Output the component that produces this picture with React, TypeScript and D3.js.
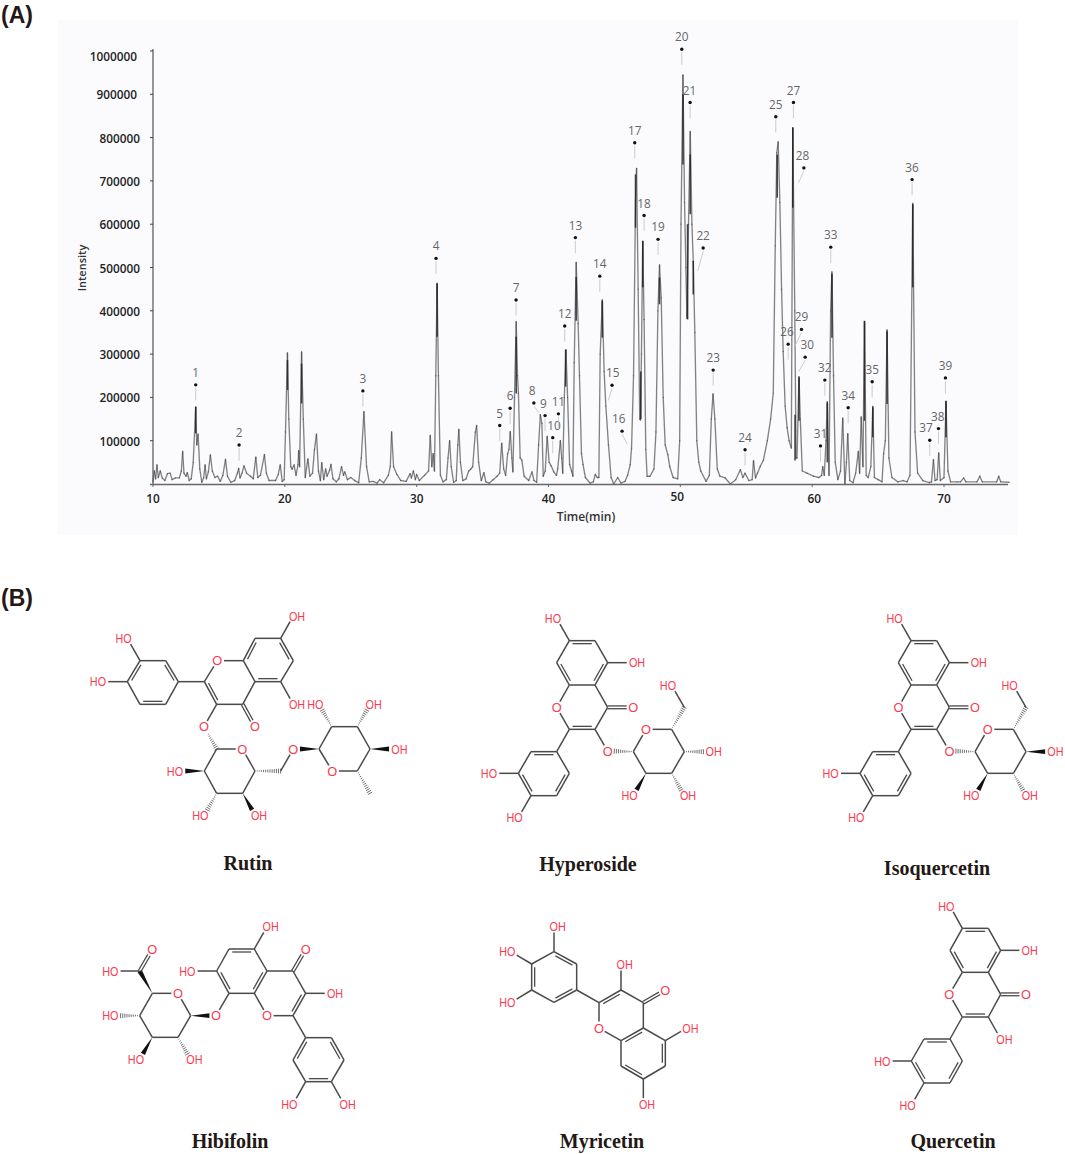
import React from "react";
import * as d3 from "d3";

// ---------- Chromatogram values (time in min, intensity in thousands) ----------
type P = [number, number];
const trace10to20: P[] = [[10,5],[10.1,30],[10.2,12],[10.3,44],[10.4,15],[10.55,30],[10.7,14],[10.9,8],[11.1,24],[11.3,25],[11.45,10],[11.7,14],[12.0,14],[12.15,30],[12.25,75],[12.35,25],[12.5,18],[12.6,26],[12.75,8],[12.9,12],[13.05,50],[13.24,178],[13.32,90],[13.42,115],[13.55,35],[13.7,4],[13.85,15],[13.95,44],[14.05,12],[14.2,28],[14.35,67],[14.5,30],[14.7,15],[14.9,18],[15.1,6],[15.3,20],[15.5,57],[15.65,18],[15.9,4],[16.2,8],[16.4,25],[16.5,36],[16.6,14],[16.75,25],[16.9,42],[17.1,25],[17.4,18],[17.6,12],[17.8,62],[17.95,15],[18.15,20],[18.45,68],[18.6,25],[18.8,8],[19.3,8],[19.5,22],[19.65,44],[19.8,6]];
const trace20to30: P[] = [[19.95,10],[20.05,120],[20.2,303],[20.3,150],[20.45,40],[20.55,34],[20.7,44],[20.85,20],[21.0,45],[21.05,77],[21.12,40],[21.27,305],[21.4,150],[21.55,15],[21.75,58],[21.9,18],[22.1,25],[22.25,80],[22.4,115],[22.55,30],[22.7,8],[22.8,49],[22.95,10],[23.1,35],[23.2,18],[23.4,32],[23.5,45],[23.65,12],[23.9,5],[24.1,12],[24.3,40],[24.45,20],[24.55,28],[24.75,10],[25.0,15],[25.3,8],[25.6,3],[25.8,60],[26.0,167],[26.2,40],[26.4,5],[26.7,6],[27.0,2],[27.2,10],[27.5,3],[27.85,20],[28.0,40],[28.1,120],[28.25,40],[28.5,22],[28.8,8],[29.2,6],[29.5,24],[29.6,14],[29.75,30],[29.9,10],[30.0,22],[30.2,8],[30.6,20],[30.9,30]];
const trace30to40: P[] = [[31.03,112],[31.15,40],[31.25,70],[31.35,30],[31.45,250],[31.55,463],[31.65,250],[31.8,20],[32.0,5],[32.25,10],[32.38,60],[32.5,100],[32.62,40],[32.8,4],[33.0,8],[33.12,90],[33.2,126],[33.32,50],[33.5,8],[33.75,12],[33.95,30],[34.1,34],[34.25,40],[34.45,120],[34.55,135],[34.7,50],[34.9,8],[35.1,26],[35.25,5],[35.5,2],[35.8,10],[36.1,18],[36.3,25],[36.45,94],[36.6,35],[36.75,20],[36.9,70],[37.0,80],[37.1,121],[37.22,60],[37.3,28],[37.42,200],[37.55,375],[37.65,250],[37.72,209],[37.85,60],[37.98,55],[38.15,18],[38.5,8],[38.75,28],[38.9,8],[39.1,4],[39.25,90],[39.38,160],[39.5,140],[39.6,18],[39.75,30],[39.9,110]];
const trace40to50: P[] = [[40.05,50],[40.2,42],[40.4,28],[40.6,20],[40.7,35],[40.9,100],[41.0,60],[41.08,25],[41.2,200],[41.32,310],[41.45,200],[41.6,45],[41.75,30],[41.85,18],[41.95,280],[42.1,512],[42.25,370],[42.35,250],[42.5,70],[42.62,45],[42.8,15],[43.15,2],[43.4,5],[43.55,22],[43.7,15],[43.82,15],[43.92,300],[44.08,425],[44.22,260],[44.35,180],[44.55,90],[44.75,15],[44.95,0],[45.25,15],[45.5,2],[45.8,6],[46.0,20],[46.2,45],[46.3,83],[46.45,250],[46.6,650],[46.68,729],[46.8,450],[46.92,150],[46.98,148],[47.05,300],[47.15,561],[47.25,380],[47.38,80],[47.48,18],[47.7,18],[48.0,35],[48.15,120],[48.3,400],[48.42,506],[48.55,430],[48.7,200],[48.85,90],[49.05,68],[49.2,40],[49.45,15],[49.8,12],[49.95,100]];
const trace50to60: P[] = [[50.05,600],[50.2,945],[50.32,650],[50.42,500],[50.5,383],[50.62,600],[50.75,814],[50.88,600],[50.98,514],[51.1,350],[51.25,100],[51.4,50],[51.55,30],[51.95,6],[52.2,20],[52.35,150],[52.48,208],[52.62,150],[52.8,35],[53.0,18],[53.4,14],[53.8,0],[54.2,10],[54.55,33],[54.75,15],[54.9,25],[55.2,8],[55.45,10],[55.55,54],[55.7,14],[55.85,25],[56.05,40],[56.3,55],[56.6,100],[56.85,150],[57.05,210],[57.2,550],[57.32,765],[57.42,790],[57.55,650],[57.68,450],[57.8,306],[57.95,180],[58.1,130],[58.25,100],[58.42,83],[58.53,823],[58.68,400],[58.78,60],[58.85,60],[59.0,248],[59.1,150],[59.25,30],[59.6,25]];
const trace60to75: P[] = [[60.1,18],[60.5,15],[60.72,20],[60.8,40],[60.92,20],[61.05,100],[61.15,190],[61.28,20],[61.4,400],[61.5,490],[61.62,250],[61.75,50],[61.95,10],[62.15,30],[62.32,152],[62.48,0],[62.6,50],[62.7,116],[62.85,8],[63.1,3],[63.3,25],[63.5,75],[63.6,25],[63.72,155],[63.85,40],[63.97,375],[64.1,20],[64.25,15],[64.45,40],[64.6,179],[64.72,15],[65.0,10],[65.3,5],[65.42,70],[65.55,100],[65.68,356],[65.82,60],[66.05,15],[66.5,5],[66.9,8],[67.2,5],[67.42,20],[67.63,648],[67.8,120],[68.0,25],[68.4,8],[68.9,3],[69.05,5],[69.2,56],[69.32,8],[69.48,10],[69.6,72],[69.72,8],[70.0,15],[70.15,190],[70.3,30],[70.5,5],[71.0,5],[71.25,5],[71.5,14],[71.65,5],[72.5,5],[72.72,18],[72.9,5],[74.0,5],[74.15,18],[74.3,5],[74.95,4]];
const trace: P[] = [...trace10to20, ...trace20to30, ...trace30to40, ...trace40to50, ...trace50to60, ...trace60to75];

// Dark centres of the strong peaks, where the two flanks merge: [time, top, bottom]
const darkCores: [number, number, number][] = [[13.24,178,117],[20.2,286,217],[21.27,278,186],[31.55,463,340],[37.55,340,209],[41.3,310,225],[42.1,478,377],[44.08,423,338],[46.6,715,592],[47.0,260,150],[47.15,561,454],[48.42,477,415],[50.2,900,738],[50.55,600,380],[50.75,761,623],[50.98,515,438],[57.35,761,661],[58.53,823,638],[58.7,160,54],[59.0,246,146],[61.15,188,50],[61.5,485,338],[63.97,377,146],[64.6,177,108],[65.68,353,185],[67.63,646,454],[70.15,192,108]];

const yTicks = [100,200,300,400,500,600,700,800,900,1000];
const xTicks = [10,20,30,40,50,60,70];

// ---------- Numbered peaks: [time, intensity] of each marker dot ----------
const peakDots: P[] = [[13.24,229],[16.53,90],[25.92,215],[31.47,521],[36.3,135],[37.09,175],[37.54,425],[38.89,187],[39.74,158],[40.32,107],[40.75,162],[41.23,365],[42.04,569],[43.89,480],[44.82,228],[45.58,122],[46.54,788],[47.25,620],[48.31,565],[50.11,1004],[50.74,881],[51.73,545],[52.49,263],[54.91,79],[57.24,848],[58.18,323],[58.58,881],[59.37,730],[59.19,357],[59.47,293],[60.63,88],[60.96,240],[61.41,547],[62.73,176],[64.55,236],[67.58,703],[68.92,101],[69.58,128],[70.11,245]];
const labelShift: Record<number, number> = {8:-0.13,9:-0.13,10:0.1,15:0.05,16:-0.25,21:-0.05,26:-0.08,28:-0.1,30:0.15,37:-0.28,38:-0.05};
const leaderEnd: Record<number, P> = {8:[0.38,-22],15:[-0.28,-35],16:[0.4,-30],22:[-0.4,-53],28:[-0.4,-34],29:[-0.48,-37],30:[-0.5,-34]};

// ---------- Structures: atom positions in a 3x drawing space ----------
type Atom = [number, number, string?];
type Atoms = Record<string, Atom>;
const rutinAtoms: Atoms = {c7:[632,115],c6:[670,182],c5:[632,245],c4a:[555,245],c8a:[520,182],c8:[555,115],O1:[442,182,"O"],C2:[403,245],C3:[440,313],C4:[518,313],O4:[555,380,"O"],O7:[670,48,"OH"],O5:[670,313,"OH"],B1:[325,245],B2:[287,182],B3:[210,182],B4:[172,245],B5:[210,313],B6:[287,313],OB3:[172,115,"HO"],OB4:[95,245,"HO"],O3:[402,380,"O"],S1:[440,447],SO:[517,447,"O"],S5:[555,513],S4:[518,580],S3:[440,580],S2:[403,513],OS2:[326,513,"HO"],OS3:[402,647,"HO"],OS4:[556,647,"OH"],CH2:[632,513],OL:[670,447,"O"],R1:[747,447],RO:[787,513,"O"],R5:[862,513],Me:[900,580],R4:[900,447],R3:[862,380],R2:[785,380],OR4:[977,447,"OH"],OR3:[900,313,"OH"],OR2:[747,313,"HO"]};
const hyperosideAtoms: Atoms = {c7:[298,122],c6:[375,122],c5:[413,188],c4a:[375,255],c8a:[298,255],c8:[260,188],O7:[260,55,"HO"],O5:[490,188,"OH"],O1:[260,322,"O"],C2:[298,388],C3:[375,388],C4:[413,322],O4:[490,322,"O"],O3:[413,453,"O"],B1:[260,455],B2:[183,455],B3:[145,520],B4:[183,587],B5:[260,587],B6:[298,520],OB3:[68,520,"HO"],OB4:[145,653,"HO"],S1:[490,455],SO:[528,388,"O"],S5:[605,388],S4:[643,455],S3:[605,520],S2:[528,520],CH2:[643,322],OCH:[605,256,"HO"],OS4:[720,455,"OH"],OS3:[643,587,"OH"],OS2:[490,587,"HO"]};
const hibifolinAtoms: Atoms = {c5:[493,147],c6:[417,147],c7:[380,213],c8:[417,280],c8a:[493,280],c4a:[531,213],C4:[609,213],O4:[647,148,"O"],C3:[647,280],O3:[724,280,"OH"],C2:[609,347],O1:[531,347,"O"],O5:[531,80,"OH"],O7:[303,213,"HO"],O8:[378,347,"O"],B1:[647,413],B2:[724,413],B3:[762,480],B4:[724,545],B5:[647,545],B6:[609,480],OB4:[762,612,"OH"],OB5:[609,612,"HO"],S1:[302,347],SO:[264,280,"O"],S5:[187,280],S4:[149,347],S3:[187,412],S2:[264,412],CO:[149,213],OD:[187,148,"O"],OA:[72,213,"HO"],OS4:[72,347,"HO"],OS3:[149,479,"HO"],OS2:[302,479,"OH"]};
const myricetinAtoms: Atoms = {B1:[290,270],B2:[290,192],B3:[222,155],B4:[155,192],B5:[155,270],B6:[222,307],OB3:[222,78,"OH"],OB4:[93,155,"HO"],OB5:[93,308,"HO"],C2:[357,308],C3:[423,270],O3:[423,192,"OH"],C4:[490,308],O4:[556,270,"O"],O1:[357,384,"O"],c8a:[423,422],c4a:[490,384],c5:[556,422],O5:[620,384,"OH"],c6:[556,498],c7:[490,537],O7:[490,614,"OH"],c8:[423,498]};
const quercetinAtoms: Atoms = {c7:[367,115],c6:[445,115],c5:[482,181],c4a:[445,247],c8a:[367,247],c8:[330,181],O7:[330,48,"HO"],O5:[558,181,"OH"],O1:[328,313,"O"],C2:[367,381],C3:[445,381],C4:[482,313],O4:[558,313,"O"],O3:[482,447,"OH"],B1:[330,447],B2:[252,447],B3:[214,513],B4:[252,579],B5:[330,579],B6:[367,513],OB3:[138,513,"HO"],OB4:[214,645,"HO"]};

const coreBonds = ["c6 c5 1","c4a c8a 1","c8 c7 1","c7 O7 1","c5 O5 1","c8a O1 1","O1 C2 1","C3 C4 1","C4 c4a 1","C4 O4 2","C2 B1 1","C2 C3 2 C4"];
const kekuleA = ["c7 c6 2 c8a","c5 c4a 2 c7","c8 c8a 2 c6"];
const kekuleA2 = ["c5 c6 2 c8a","c7 c8 2 c4a","c8a c4a 2 c6","c6 c7 1","c8 c8a 1","c4a c5 1"];
const ringB12 = ["B1 B2 2 B4","B2 B3 1","B3 B4 2 B1","B4 B5 1","B5 B6 2 B3","B6 B1 1"];
const ringB16 = ["B1 B6 2 B3","B6 B5 1","B5 B4 2 B2","B4 B3 1","B3 B2 2 B5","B2 B1 1"];
const rutinBonds = [...coreBonds,...kekuleA,...ringB12,"B3 OB3 1","B4 OB4 1","C3 O3 1","O3 S1 h","S1 SO 1","SO S5 1","S5 S4 1","S4 S3 1","S3 S2 1","S2 S1 1","S2 OS2 w","S3 OS3 h","S4 OS4 w","S5 CH2 h","CH2 OL 1","R1 OL w","R1 RO 1","RO R5 1","R5 R4 1","R4 R3 1","R3 R2 1","R2 R1 1","R5 Me h","R4 OR4 w","R3 OR3 h","R2 OR2 h"];
const glucosideBonds = [...coreBonds,...kekuleA,...ringB12,"B3 OB3 1","B4 OB4 1","C3 O3 1","S1 O3 h","S1 SO 1","SO S5 1","S5 S4 1","S4 S3 1","S3 S2 1","S2 S1 1","S5 CH2 h","CH2 OCH 1","S3 OS3 h","S2 OS2 w"];
const hyperosideBonds = [...glucosideBonds,"S4 OS4 h"];
const isoquercetinBonds = [...glucosideBonds,"S4 OS4 w"];
const hibifolinBonds = ["c7 O7 1","c5 O5 1","c8a O1 1","O1 C2 1","C3 C4 1","C4 c4a 1","C4 O4 2","C2 B1 1","C2 C3 2 C4",...kekuleA2,...ringB16,"B4 OB4 1","B5 OB5 1","C3 O3 1","c8 O8 1","S1 O8 w","S1 SO 1","SO S5 1","S5 S4 1","S4 S3 1","S3 S2 1","S2 S1 1","S5 CO w","CO OD 2","CO OA 1","S4 OS4 h","S3 OS3 w","S2 OS2 h"];
const myricetinBonds = ["c7 O7 1","c5 O5 1","c8a O1 1","O1 C2 1","C3 C4 1","C4 c4a 1","C4 O4 2","C2 B1 1","C2 C3 2 C4",...kekuleA2,...ringB16,"B3 OB3 1","B4 OB4 1","B5 OB5 1","C3 O3 1"];
const quercetinBonds = [...coreBonds,...kekuleA,...ringB12,"B3 OB3 1","B4 OB4 1","C3 O3 1"];

const moleculeNames = ["Rutin","Hyperoside","Isoquercetin","Hibifolin","Myricetin","Quercetin"];
const moleculeAtoms = [rutinAtoms,hyperosideAtoms,hyperosideAtoms,hibifolinAtoms,myricetinAtoms,quercetinAtoms];
const moleculeBonds = [rutinBonds,hyperosideBonds,isoquercetinBonds,hibifolinBonds,myricetinBonds,quercetinBonds];
const moleculeOrigin: P[] = [[70,600],[470,600],[811.7,600],[90,900],[480,900],[840,890]];
const nameAnchor: P[] = [[248,870],[588,871],[937,875],[230,1148],[602,1148],[953,1148]];

const BOND = "#4a4a4a";
const RED = "#fa3a50";
const INK = "#231815";

function Molecule({ atoms, bonds, origin }: { atoms: Atoms; bonds: string[]; origin: P }) {
  const sx = d3.scaleLinear().domain([0, 3]).range([origin[0], origin[0] + 1]);
  const sy = d3.scaleLinear().domain([0, 3]).range([origin[1], origin[1] + 1]);
  const pt = (k: string): [number, number] => [sx(atoms[k][0]), sy(atoms[k][1])];
  const line = d3.line();
  const els: React.ReactNode[] = [];
  bonds.forEach((spec, i) => {
    const [a, b, type, inner] = spec.split(" ");
    let [x1, y1] = pt(a);
    let [x2, y2] = pt(b);
    const L = Math.hypot(x2 - x1, y2 - y1);
    const ux = (x2 - x1) / L, uy = (y2 - y1) / L;
    const gap = 6.6;
    if (atoms[a][2]) { x1 += ux * gap; y1 += uy * gap; }
    if (atoms[b][2]) { x2 -= ux * gap; y2 -= uy * gap; }
    const nx = -uy, ny = ux;
    if (type === "1") {
      els.push(<path key={i} d={line([[x1, y1], [x2, y2]])!} stroke={BOND} strokeWidth={1.5} fill="none" />);
    } else if (type === "2") {
      if (inner) {
        const [ix, iy] = pt(inner);
        const s = (ix - x1) * nx + (iy - y1) * ny > 0 ? 1 : -1;
        const off = 3 * s, t = 3.2;
        els.push(<path key={i} d={line([[x1, y1], [x2, y2]])!} stroke={BOND} strokeWidth={1.5} fill="none" />);
        els.push(<path key={i + "b"} d={line([[x1 + ux * t + nx * off, y1 + uy * t + ny * off], [x2 - ux * t + nx * off, y2 - uy * t + ny * off]])!} stroke={BOND} strokeWidth={1.3} fill="none" />);
      } else {
        [-1.4, 1.4].forEach((o) =>
          els.push(<path key={i + "d" + o} d={line([[x1 + nx * o, y1 + ny * o], [x2 + nx * o, y2 + ny * o]])!} stroke={BOND} strokeWidth={1.3} fill="none" />));
      }
    } else if (type === "w") {
      const w = 2.4;
      els.push(<path key={i} d={line([[x1, y1], [x2 + nx * w, y2 + ny * w], [x2 - nx * w, y2 - ny * w]])! + "Z"} fill="#111" />);
    } else {
      const d = Math.hypot(x2 - x1, y2 - y1), n = Math.floor(d / 2.1);
      for (let k = 1; k <= n; k++) {
        const f = k / n, w = 0.3 + 2.2 * f;
        const cx = x1 + (x2 - x1) * f, cy = y1 + (y2 - y1) * f;
        els.push(<path key={i + "h" + k} d={line([[cx + nx * w, cy + ny * w], [cx - nx * w, cy - ny * w]])!} stroke={BOND} strokeWidth={0.8} />);
      }
    }
  });
  const fs = 12.8;
  const pairWidth = 16.2;
  Object.keys(atoms).forEach((k) => {
    const lab = atoms[k][2];
    if (!lab) return;
    const [x, y] = pt(k);
    const anchor = lab === "OH" ? "start" : lab === "HO" ? "end" : "middle";
    const tx = lab === "OH" ? x - 4.4 : lab === "HO" ? x + 4.4 : x;
    const fit = lab.length === 2 ? { textLength: pairWidth, lengthAdjust: "spacingAndGlyphs" } : {};
    els.push(<text key={k} x={tx} y={y + 0.36 * fs} textAnchor={anchor} fontFamily="'Liberation Sans', Arial, sans-serif" fontSize={fs} fill={RED} {...fit}>{lab}</text>);
  });
  return <g>{els}</g>;
}

export default function App() {
  const x = d3.scaleLinear().domain([10, 70]).range([153, 944]);
  const y = d3.scaleLinear().domain([0, 1000]).range([484, 51]);
  const seg = d3.line<P>().x((d) => x(d[0])).y((d) => y(d[1]));
  const tickFont = "'Open Sans', sans-serif";
  return (
    <svg width={1065} height={1154} viewBox="0 0 1065 1154" style={{ position: "absolute", left: 0, top: 0, background: "#fff" }}>
      <defs>
        <filter id="soft" x="0" y="0" width="1" height="1"><feGaussianBlur stdDeviation="0.3" /></filter>
      </defs>
      <text x={1} y={23} fontFamily="'Liberation Sans', Arial, sans-serif" fontWeight={700} fontSize={23} fill={INK}>(A)</text>
      <text x={1} y={606} fontFamily="'Liberation Sans', Arial, sans-serif" fontWeight={700} fontSize={23} fill={INK}>(B)</text>

      <rect x={58} y={20} width={960} height={515} fill="#fbfbfe" />
      <g filter="url(#soft)">
        {trace.slice(1).map((d, i) => (
          <path key={i} d={seg([trace[i], d])!} stroke="#444" strokeOpacity={0.65} strokeWidth={1.35} fill="none" strokeLinecap="round" />
        ))}
        {darkCores.map(([t, hi, lo]) => (
          <line key={t} x1={x(t)} x2={x(t)} y1={y(hi)} y2={y(lo)} stroke="#1c1c1c" strokeOpacity={0.8} strokeWidth={1.6} />
        ))}
        <line x1={153} x2={153} y1={49} y2={484} stroke="#444" strokeWidth={1.1} />
        <line x1={150} x2={1008} y1={484.5} y2={484.5} stroke="#666" strokeWidth={1.4} />
        {yTicks.map((v) => <line key={v} x1={150} x2={153} y1={y(v)} y2={y(v)} stroke="#444" />)}
        {xTicks.map((v) => <line key={v} x1={x(v)} x2={x(v)} y1={484} y2={487} stroke="#666" />)}
      </g>
      {yTicks.map((v) => (
        <text key={v} x={v >= 900 ? 137 : 140} y={y(v) + (v === 1000 ? 10 : 5)} textAnchor="end" fontFamily={tickFont} fontWeight={600} fontSize={11.8} fill="#222">{v * 1000}</text>
      ))}
      {xTicks.map((v) => (
        <text key={v} x={x(v) + (v === 50 ? -3 : v === 60 ? 2 : 0)} y={v === 50 ? 501 : 503} textAnchor="middle" fontFamily={tickFont} fontWeight={600} fontSize={11.8} fill="#222">{v}</text>
      ))}
      <text x={586} y={521} textAnchor="middle" fontFamily={tickFont} fontWeight={600} fontSize={12} fill="#333">Time(min)</text>
      <text transform="translate(86,268) rotate(-90)" textAnchor="middle" fontFamily={tickFont} fontWeight={600} fontSize={11} fill="#333">Intensity</text>

      {peakDots.map((d, i) => {
        const id = i + 1;
        const end = leaderEnd[id] ?? [0, -36];
        return (
          <g key={id}>
            <line x1={x(d[0])} y1={y(d[1]) + 3} x2={x(d[0] + end[0])} y2={y(d[1] + end[1])} stroke="#c6c6c6" strokeWidth={0.9} />
            <circle cx={x(d[0])} cy={y(d[1])} r={1.7} fill="#111" />
            <text x={x(d[0] + (labelShift[id] ?? 0))} y={y(d[1]) - 8} textAnchor="middle" fontFamily="'Open Sans', sans-serif" fontSize={11.8} fill="#666">{id}</text>
          </g>
        );
      })}

      {moleculeNames.map((n, i) => (
        <g key={n}>
          <Molecule atoms={moleculeAtoms[i]} bonds={moleculeBonds[i]} origin={moleculeOrigin[i]} />
          <text x={nameAnchor[i][0]} y={nameAnchor[i][1]} textAnchor="middle" fontFamily="'Liberation Serif', 'Times New Roman', serif" fontWeight={700} fontSize={20} fill={INK}>{n}</text>
        </g>
      ))}
    </svg>
  );
}
